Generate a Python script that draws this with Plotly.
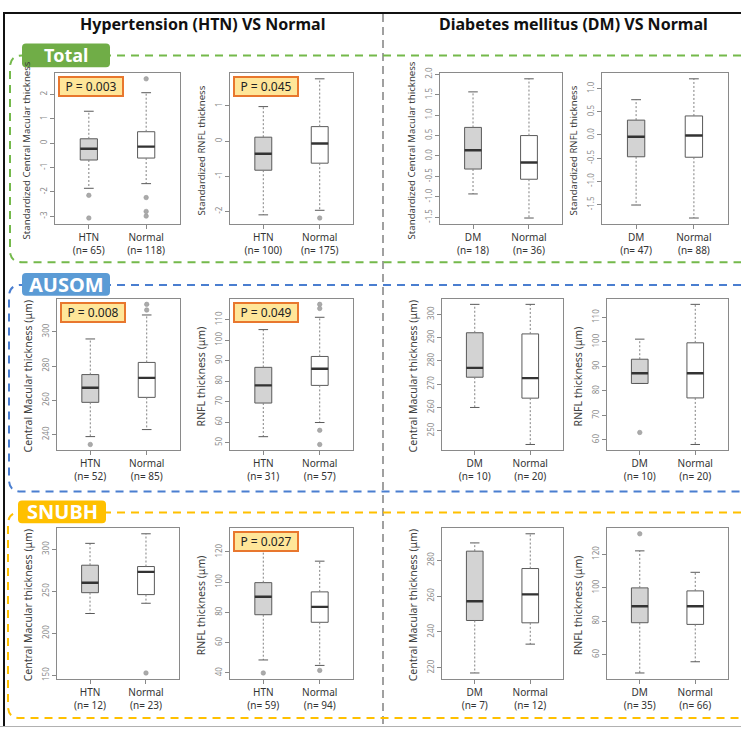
import plotly.graph_objects as go

W, H = 741, 730

# ---------------- data ----------------
group1_names = ["HTN", "HTN", "DM", "DM", "HTN", "HTN", "DM", "DM", "HTN", "HTN", "DM", "DM"]
group1_n = [65, 100, 18, 47, 52, 31, 10, 10, 12, 59, 7, 35]
group2_names = ["Normal"] * 12
group2_n = [118, 175, 36, 88, 85, 57, 20, 20, 23, 94, 12, 66]

g1_low = [-1.85, -2.10, -0.93, -1.51, 238.8, 52.9, 260.0, 83.0, 223.6, 48.6, 217.1, 49.1]
g1_q1 = [-0.69, -0.83, -0.32, -0.47, 258.8, 69.3, 273.0, 83.0, 248.4, 78.5, 246.4, 79.1]
g1_med = [-0.23, -0.36, 0.14, -0.04, 267.3, 77.9, 277.0, 87.2, 260.2, 90.4, 257.1, 88.9]
g1_q3 = [0.18, 0.11, 0.70, 0.32, 275.0, 86.7, 292.1, 92.9, 281.1, 99.7, 285.1, 99.9]
g1_high = [1.31, 0.98, 1.57, 0.76, 295.8, 105.1, 304.3, 101.1, 307.1, 132.0, 289.7, 122.0]
g1_out = [[-2.14, -3.07], [], [], [], [234.2], [], [], [63.0], [], [40.0], [], [132.2]]

g2_low = [-1.66, -1.97, -1.52, -1.79, 242.9, 59.8, 244.1, 58.1, 235.8, 45.0, 233.2, 55.8]
g2_q1 = [-0.61, -0.63, -0.57, -0.48, 261.7, 77.9, 264.0, 77.1, 246.1, 73.5, 245.1, 78.1]
g2_med = [-0.14, -0.07, -0.16, -0.01, 273.1, 86.0, 272.6, 87.2, 273.2, 83.7, 261.0, 88.9]
g2_q3 = [0.47, 0.41, 0.50, 0.41, 282.1, 92.0, 291.6, 99.6, 279.5, 93.6, 275.4, 98.1]
g2_high = [2.07, 1.77, 1.89, 1.21, 309.8, 111.1, 304.3, 115.3, 318.5, 113.9, 294.8, 109.2]
g2_out = [[2.64, -2.23, -2.80, -2.99], [-2.19], [], [], [316.0, 312.7],
          [117.4, 115.4, 56.0, 49.1], [], [], [152.8], [41.7], [], []]

y_titles = ["Standardized Central Macular thickness", "Standardized RNFL thickness",
            "Standardized Central Macular thickness", "Standardized RNFL thickness",
            "Central Macular thickness (μm)", "RNFL thickness (μm)",
            "Central Macular thickness (μm)", "RNFL thickness (μm)",
            "Central Macular thickness (μm)", "RNFL thickness (μm)",
            "Central Macular thickness (μm)", "RNFL thickness (μm)"]

y_ticks = [[-3, -2, -1, 0, 1, 2], [-2, -1, 0, 1],
           [-1.5, -1.0, -0.5, 0.0, 0.5, 1.0, 1.5, 2.0], [-1.5, -1.0, -0.5, 0.0, 0.5, 1.0],
           [240, 260, 280, 300], [50, 60, 70, 80, 90, 100, 110],
           [250, 260, 270, 280, 290, 300], [60, 70, 80, 90, 100, 110],
           [150, 200, 250, 300], [40, 60, 80, 100, 120],
           [220, 240, 260, 280], [60, 80, 100, 120]]
y_tick_decimals = [0, 0, 1, 1, 0, 0, 0, 0, 0, 0, 0, 0]

p_values = ["P = 0.003", "P = 0.045", None, None,
            "P = 0.008", "P = 0.049", None, None,
            None, "P = 0.027", None, None]

column_titles = ["Hypertension (HTN) VS Normal", "Diabetes mellitus (DM) VS Normal"]
section_names = ["Total", "AUSOM", "SNUBH"]

# ---------------- layout geometry (pixels) ----------------
frames_x = [(55, 180), (230, 353), (440, 562), (602, 728),
            (57, 180), (230, 353), (442, 563), (607, 728),
            (57, 179), (230, 353), (442, 563), (607, 728)]
rows_y = [(68, 220), (296, 449), (528, 680)]

FONT = "Noto Sans, Open Sans, sans-serif"
fig = go.Figure()


def px(x):
    return x / W


def py(y):
    return 1 - y / H


BOX_W = 0.3
CAP = 0.085
fills = ["#D3D3D3", "#FFFFFF"]
layout_axes = {}
annotations = []

for i in range(12):
    k = "" if i == 0 else str(i + 1)
    xa, ya = "x" + k, "y" + k
    groups = [
        (1, g1_low[i], g1_q1[i], g1_med[i], g1_q3[i], g1_high[i], g1_out[i], fills[0]),
        (2, g2_low[i], g2_q1[i], g2_med[i], g2_q3[i], g2_high[i], g2_out[i], fills[1]),
    ]
    allv = []
    for pos, lo, q1, med, q3, hi, outs, fc in groups:
        allv += [lo, hi] + list(outs)
        # whiskers (dotted)
        fig.add_trace(go.Scatter(x=[pos, pos, None, pos, pos], y=[q3, hi, None, q1, lo],
                                 mode="lines", line=dict(color="#808080", width=1, dash="2px,2px"),
                                 xaxis=xa, yaxis=ya, showlegend=False, hoverinfo="skip"))
        # caps
        fig.add_trace(go.Scatter(x=[pos - CAP, pos + CAP, None, pos - CAP, pos + CAP],
                                 y=[hi, hi, None, lo, lo], mode="lines",
                                 line=dict(color="#5a5a5a", width=1),
                                 xaxis=xa, yaxis=ya, showlegend=False, hoverinfo="skip"))
        # box
        fig.add_trace(go.Box(x=[pos], q1=[q1], median=[med], q3=[q3], lowerfence=[q1], upperfence=[q3],
                             width=BOX_W, whiskerwidth=0, fillcolor=fc, boxpoints=False,
                             line=dict(color="#5a5a5a", width=1),
                             xaxis=xa, yaxis=ya, showlegend=False, hoverinfo="skip"))
        # median (thick)
        fig.add_trace(go.Scatter(x=[pos - BOX_W / 2, pos + BOX_W / 2], y=[med, med], mode="lines",
                                 line=dict(color="#333333", width=2.4),
                                 xaxis=xa, yaxis=ya, showlegend=False, hoverinfo="skip"))
        if outs:
            fig.add_trace(go.Scatter(x=[pos] * len(outs), y=outs, mode="markers",
                                     marker=dict(color="#aaaaaa", size=4.5, line=dict(width=0.6, color="#999999")),
                                     xaxis=xa, yaxis=ya, showlegend=False, hoverinfo="skip"))
    vmin, vmax = min(allv), max(allv)
    pad = 0.04 * (vmax - vmin)
    x0, x1 = frames_x[i]
    y0, y1 = rows_y[i // 4]
    dec = y_tick_decimals[i]
    ttext = [(f"{v:.1f}" if dec else str(int(v))) for v in y_ticks[i]]
    title_size = 9.6 if i < 4 else 10.5
    layout_axes["xaxis" + k] = dict(
        domain=[px(x0), px(x1)], anchor=ya, range=[0.41, 2.59],
        tickvals=[1, 2],
        ticktext=[f"{group1_names[i]}<br>(n= {group1_n[i]})", f"{group2_names[i]}<br>(n= {group2_n[i]})"],
        ticks="outside", ticklen=4, tickcolor="#888888",
        tickfont=dict(size=10, color="#333333", family=FONT),
        showline=True, mirror=True, linecolor="#8a8a8a", linewidth=1,
        showgrid=False, zeroline=False, fixedrange=True)
    layout_axes["yaxis" + k] = dict(
        domain=[py(y1), py(y0)], anchor=xa, range=[vmin - pad, vmax + pad],
        tickvals=y_ticks[i], ticktext=ttext, tickangle=-90,
        ticks="outside", ticklen=4, tickcolor="#888888",
        tickfont=dict(size=8, color="#8a8a8a", family=FONT),
        showline=True, mirror=True, linecolor="#8a8a8a", linewidth=1,
        showgrid=False, zeroline=False, fixedrange=True)
    # y-axis title as rotated annotation
    annotations.append(dict(
        x=px(x0 - 29), y=py((y0 + y1) / 2 + 2), xref="paper", yref="paper",
        xanchor="center", yanchor="middle", text=y_titles[i], textangle=-90, showarrow=False,
        font=dict(size=title_size, color="#404040", family=FONT)))
    if p_values[i]:
        annotations.append(dict(
            x=px(x0 + 3), y=py(y0 + 3), xref="paper", yref="paper", xanchor="left", yanchor="top",
            text=p_values[i], showarrow=False, width=60, height=15, align="center", valign="middle",
            font=dict(size=12, color="#222222", family=FONT),
            bgcolor="#FFE699", bordercolor="#E8772E", borderwidth=2, borderpad=1))

# ---------------- decorations ----------------
shapes = []


def line_shape(xa_, ya_, xb, yb, color, width, dash="solid"):
    return dict(type="line", xref="paper", yref="paper", x0=px(xa_), y0=py(ya_), x1=px(xb), y1=py(yb),
                line=dict(color=color, width=width, dash=dash), layer="above")


def rounded_rect(x0, y0, x1, y1, r):
    pts = (f"M {px(x0 + r)},{py(y0)} L {px(x1 - r)},{py(y0)} Q {px(x1)},{py(y0)} {px(x1)},{py(y0 + r)} "
           f"L {px(x1)},{py(y1 - r)} Q {px(x1)},{py(y1)} {px(x1 - r)},{py(y1)} "
           f"L {px(x0 + r)},{py(y1)} Q {px(x0)},{py(y1)} {px(x0)},{py(y1 - r)} "
           f"L {px(x0)},{py(y0 + r)} Q {px(x0)},{py(y0)} {px(x0 + r)},{py(y0)} Z")
    return pts


def section_path(xl, yt, yb, r):
    return (f"M {px(W)},{py(yt)} L {px(xl + r)},{py(yt)} Q {px(xl)},{py(yt)} {px(xl)},{py(yt + r)} "
            f"L {px(xl)},{py(yb - r)} Q {px(xl)},{py(yb)} {px(xl + r)},{py(yb)} L {px(W)},{py(yb)}")


# outer frame
shapes.append(line_shape(3, 7, W, 7, "#111111", 2))
shapes.append(line_shape(4, 7, 4, 728, "#111111", 2))
shapes.append(line_shape(0, 728.5, W, 728.5, "#b0b0b0", 1))
# column divider
shapes.append(line_shape(383, 8, 383, H, "#a0a0a0", 2, "8px,5px"))

sections = [
    (10, 50, 259, "#74B94B", (22, 38, 110, 62), "#70AD47", 18),
    (9, 282, 491, "#4A7ED0", (22, 270, 110, 293), "#5B9BD5", 20),
    (8, 512, 720, "#FFC000", (18, 500, 106, 523), "#FFC000", 20),
]
for (xl, yt, yb, lc, (lx0, ly0, lx1, ly1), fc, fs), name in zip(sections, section_names):
    shapes.append(dict(type="path", xref="paper", yref="paper", path=section_path(xl, yt, yb, 12),
                       line=dict(color=lc, width=2, dash="8px,6px"), layer="above"))
    shapes.append(dict(type="path", xref="paper", yref="paper", path=rounded_rect(lx0, ly0, lx1, ly1, 4),
                       fillcolor=fc, line=dict(width=0), layer="above"))
    annotations.append(dict(x=px((lx0 + lx1) / 2), y=py((ly0 + ly1) / 2), xref="paper", yref="paper",
                            xanchor="center", yanchor="middle", text=f"<b>{name}</b>", showarrow=False,
                            font=dict(size=fs, color="white", family=FONT)))

for cx, t in zip([202, 573], column_titles):
    annotations.append(dict(x=px(cx), y=py(18), xref="paper", yref="paper", xanchor="center",
                            yanchor="middle", text=f"<b>{t}</b>", showarrow=False,
                            font=dict(size=16, color="#111111", family=FONT)))

fig.update_layout(
    width=W, height=H, autosize=False,
    margin=dict(l=0, r=0, t=0, b=0),
    paper_bgcolor="white", plot_bgcolor="white",
    font=dict(family=FONT),
    showlegend=False,
    shapes=shapes, annotations=annotations,
    **layout_axes)

fig.write_html("out.html", config={"displayModeBar": False},
               post_script="document.body.style.margin='0';")
